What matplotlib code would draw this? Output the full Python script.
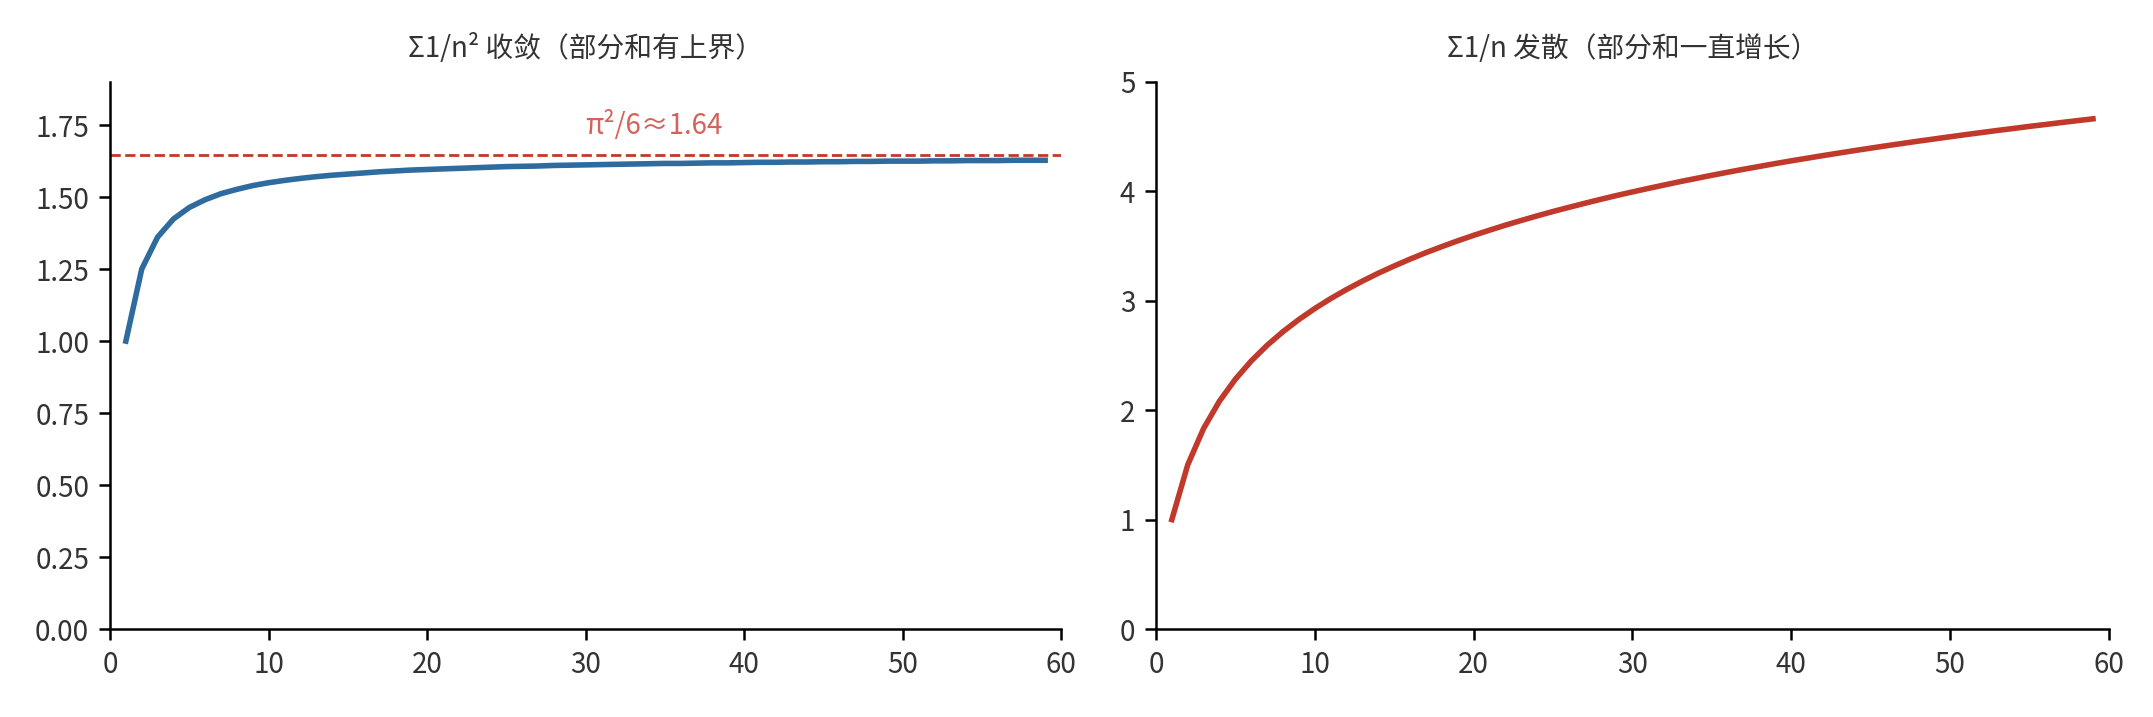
import matplotlib
matplotlib.use('Agg')
import matplotlib.pyplot as plt

plt.rcParams['font.family'] = ['Noto Sans CJK SC', 'DejaVu Sans']

# 数据：部分和
n_vals = list(range(1, 60))
sq_sums = [1.000, 1.250, 1.361, 1.424, 1.464, 1.491, 1.512, 1.527, 1.540, 1.550,
           1.558, 1.565, 1.571, 1.576, 1.580, 1.584, 1.588, 1.591, 1.594, 1.596,
           1.598, 1.600, 1.602, 1.604, 1.606, 1.607, 1.608, 1.610, 1.611, 1.612,
           1.613, 1.614, 1.615, 1.616, 1.617, 1.617, 1.618, 1.619, 1.619, 1.620,
           1.621, 1.621, 1.622, 1.622, 1.623, 1.623, 1.624, 1.624, 1.625, 1.625,
           1.625, 1.626, 1.626, 1.627, 1.627, 1.627, 1.628, 1.628, 1.628]
harm_sums = [1.000, 1.500, 1.833, 2.083, 2.283, 2.450, 2.593, 2.718, 2.829, 2.929,
             3.020, 3.103, 3.180, 3.252, 3.318, 3.381, 3.440, 3.495, 3.548, 3.598,
             3.645, 3.691, 3.734, 3.776, 3.816, 3.854, 3.891, 3.927, 3.962, 3.995,
             4.027, 4.058, 4.089, 4.118, 4.147, 4.175, 4.202, 4.228, 4.254, 4.279,
             4.303, 4.327, 4.350, 4.373, 4.395, 4.417, 4.438, 4.459, 4.479, 4.499,
             4.519, 4.538, 4.557, 4.575, 4.594, 4.611, 4.629, 4.646, 4.663]
limit_val = 1.6449
titles = ['Σ1/n² 收敛（部分和有上界）', 'Σ1/n 发散（部分和一直增长）']

blue = '#2e6b9e'
red = '#c0392b'
txt = '#333333'

fig = plt.figure(figsize=(10.765, 3.585), dpi=200)
ax1 = fig.add_axes([0.0511, 0.1227, 0.4417, 0.763])
ax2 = fig.add_axes([0.5369, 0.1227, 0.4426, 0.763])

# 左图：收敛
ax1.plot(n_vals, sq_sums, color=blue, lw=2.0)
ax1.axhline(limit_val, color=red, ls='--', lw=1.0)
ax1.text(30, 1.695, 'π²/6≈1.64', color='#d5625a', fontsize=10, ha='left', va='bottom')
ax1.set_xlim(0, 60)
ax1.set_ylim(0, 1.9)
ax1.set_yticks([0, 0.25, 0.5, 0.75, 1.0, 1.25, 1.5, 1.75])
ax1.set_yticklabels(['0.00', '0.25', '0.50', '0.75', '1.00', '1.25', '1.50', '1.75'])

# 右图：发散
ax2.plot(n_vals, harm_sums, color=red, lw=2.0)
ax2.set_xlim(0, 60)
ax2.set_ylim(0, 5)
ax2.set_yticks([0, 1, 2, 3, 4, 5])

for ax, t in zip([ax1, ax2], titles):
    ax.set_title(t, fontsize=10, color=txt, pad=9)
    ax.spines['top'].set_visible(False)
    ax.spines['right'].set_visible(False)
    ax.set_xticks([0, 10, 20, 30, 40, 50, 60])
    ax.tick_params(labelsize=10, labelcolor=txt, width=0.9, length=4)
    for s in ['left', 'bottom']:
        ax.spines[s].set_linewidth(0.9)

fig.savefig('out.png', dpi=200)
